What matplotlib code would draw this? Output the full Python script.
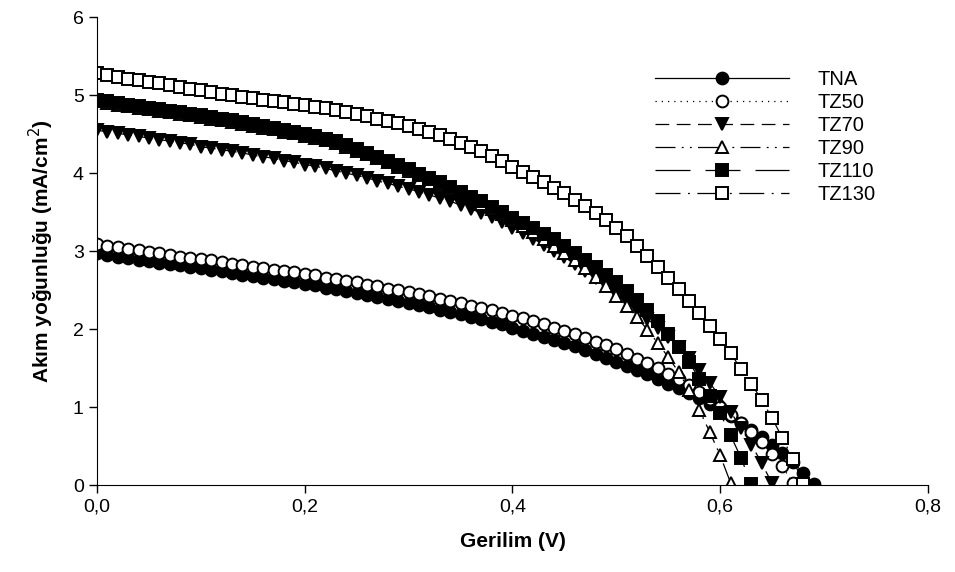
import matplotlib.pyplot as plt
import numpy as np

plt.rcParams["font.family"] = ["Liberation Sans", "DejaVu Sans"]

# voltage grid of the measurement (V), 0.01 V steps
volts = np.round(np.arange(0, 0.70, 0.01), 2)

# current density (mA/cm2)
tna = [2.97, 2.95, 2.93, 2.91, 2.89, 2.87, 2.85, 2.83, 2.82, 2.80,
       2.78, 2.76, 2.74, 2.72, 2.70, 2.68, 2.66, 2.64, 2.62, 2.60,
       2.58, 2.56, 2.53, 2.51, 2.49, 2.46, 2.44, 2.41, 2.39, 2.36,
       2.34, 2.31, 2.28, 2.25, 2.22, 2.19, 2.16, 2.13, 2.09, 2.06,
       2.02, 1.98, 1.94, 1.90, 1.86, 1.82, 1.78, 1.73, 1.68, 1.63,
       1.58, 1.53, 1.48, 1.42, 1.36, 1.30, 1.24, 1.18, 1.11, 1.04,
       0.96, 0.88, 0.80, 0.71, 0.62, 0.52, 0.41, 0.29, 0.16, 0.01]
tz50 = [3.09, 3.07, 3.05, 3.03, 3.01, 2.99, 2.97, 2.95, 2.93, 2.91,
        2.90, 2.88, 2.86, 2.84, 2.82, 2.80, 2.78, 2.76, 2.75, 2.73,
        2.71, 2.69, 2.66, 2.64, 2.62, 2.60, 2.57, 2.55, 2.52, 2.50,
        2.47, 2.45, 2.42, 2.39, 2.36, 2.33, 2.30, 2.27, 2.24, 2.21,
        2.17, 2.14, 2.10, 2.06, 2.02, 1.98, 1.94, 1.89, 1.84, 1.79,
        1.74, 1.68, 1.62, 1.56, 1.50, 1.43, 1.36, 1.28, 1.19, 1.10,
        1.00, 0.90, 0.79, 0.68, 0.55, 0.40, 0.24, 0.02]
tz70 = [4.55, 4.53, 4.51, 4.49, 4.47, 4.45, 4.43, 4.41, 4.39, 4.37,
        4.34, 4.32, 4.30, 4.28, 4.26, 4.23, 4.21, 4.19, 4.16, 4.14,
        4.11, 4.09, 4.06, 4.03, 4.00, 3.97, 3.94, 3.90, 3.87, 3.83,
        3.80, 3.76, 3.72, 3.68, 3.64, 3.59, 3.54, 3.49, 3.44, 3.37,
        3.30, 3.23, 3.16, 3.08, 3.00, 2.92, 2.84, 2.75, 2.65, 2.55,
        2.45, 2.35, 2.24, 2.13, 2.02, 1.90, 1.77, 1.63, 1.48, 1.31,
        1.13, 0.94, 0.73, 0.52, 0.28, 0.02]
tz90 = [4.92, 4.90, 4.88, 4.86, 4.84, 4.82, 4.80, 4.78, 4.76, 4.74,
        4.72, 4.70, 4.68, 4.66, 4.63, 4.61, 4.58, 4.56, 4.53, 4.51,
        4.48, 4.45, 4.42, 4.39, 4.34, 4.29, 4.24, 4.19, 4.14, 4.08,
        4.03, 3.97, 3.92, 3.86, 3.80, 3.74, 3.68, 3.61, 3.54, 3.47,
        3.40, 3.32, 3.24, 3.16, 3.07, 2.98, 2.88, 2.78, 2.67, 2.55,
        2.43, 2.30, 2.15, 1.99, 1.82, 1.64, 1.45, 1.22, 0.96, 0.68,
        0.38, 0.03]
tz110 = [4.94, 4.92, 4.90, 4.88, 4.86, 4.84, 4.82, 4.80, 4.78, 4.76,
         4.74, 4.72, 4.70, 4.68, 4.65, 4.63, 4.60, 4.58, 4.55, 4.53,
         4.50, 4.47, 4.44, 4.41, 4.36, 4.31, 4.26, 4.21, 4.16, 4.10,
         4.05, 3.99, 3.94, 3.88, 3.82, 3.76, 3.70, 3.64, 3.57, 3.50,
         3.43, 3.36, 3.29, 3.22, 3.15, 3.07, 2.98, 2.89, 2.80, 2.70,
         2.60, 2.49, 2.37, 2.24, 2.10, 1.94, 1.77, 1.58, 1.36, 1.14,
         0.92, 0.64, 0.35, 0.01]
tz130 = [5.28, 5.26, 5.23, 5.21, 5.19, 5.17, 5.15, 5.13, 5.11, 5.08,
         5.06, 5.04, 5.02, 5.00, 4.98, 4.96, 4.94, 4.93, 4.91, 4.89,
         4.87, 4.85, 4.83, 4.81, 4.78, 4.76, 4.73, 4.70, 4.67, 4.64,
         4.61, 4.57, 4.53, 4.49, 4.44, 4.39, 4.34, 4.28, 4.22, 4.15,
         4.08, 4.02, 3.95, 3.88, 3.81, 3.74, 3.66, 3.58, 3.49, 3.40,
         3.30, 3.19, 3.07, 2.94, 2.80, 2.66, 2.51, 2.36, 2.20, 2.04,
         1.87, 1.69, 1.49, 1.30, 1.09, 0.86, 0.60, 0.34, 0.01]

series = [
    ("TNA", tna, "o", "black", "-"),
    ("TZ50", tz50, "o", "white", (0, (1, 4))),
    ("TZ70", tz70, "v", "black", (0, (11, 6))),
    ("TZ90", tz90, "^", "white", (0, (16, 5, 1.5, 5, 1.5, 5))),
    ("TZ110", tz110, "s", "black", (0, (28, 12))),
    ("TZ130", tz130, "s", "white", (0, (20, 6, 1.5, 6))),
]

fig = plt.figure(figsize=(9.55, 5.72), dpi=100)
ax = fig.add_axes([0.1016, 0.152, 0.870, 0.818])

for label, vals, marker, face, ls in series:
    ax.plot(volts[:len(vals)], vals, linestyle=ls, color="black", linewidth=0.9,
            marker=marker, markersize=8.5, markerfacecolor=face,
            markeredgecolor="black", markeredgewidth=1.4, label=label)

ax.set_xlim(0, 0.8)
ax.set_ylim(0, 6)
ax.set_xticks([0, 0.2, 0.4, 0.6, 0.8])
ax.set_xticklabels(["0,0", "0,2", "0,4", "0,6", "0,8"])
ax.set_yticks(range(0, 7))
ax.tick_params(direction="out", length=6, width=1, labelsize=14)
for s in ["top", "right"]:
    ax.spines[s].set_visible(False)

ax.set_xlabel("Gerilim (V)", fontsize=15, fontweight="bold", labelpad=12)
ax.set_ylabel("Akım yoğunluğu (mA/cm$^2$)", fontsize=15, fontweight="bold", labelpad=12)

ax.legend(loc="upper left", bbox_to_anchor=(0.671, 0.887), frameon=False,
          fontsize=14.5, handlelength=6.7, numpoints=1, labelspacing=0.2,
          handletextpad=1.4, borderpad=0, borderaxespad=0)

fig.savefig("out.png", dpi=100)
